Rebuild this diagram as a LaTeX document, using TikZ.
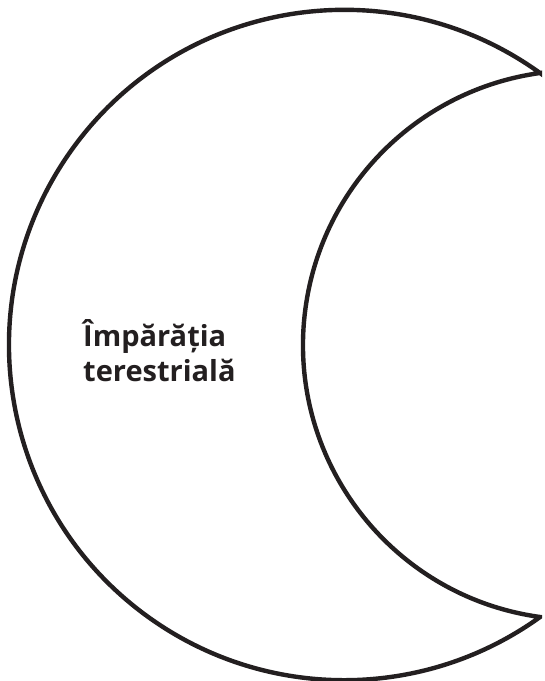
\documentclass[tikz,border=0pt]{standalone}
\usepackage{fontspec}
\setmainfont{Open Sans}
\definecolor{ink}{HTML}{231F20}
\begin{document}
\begin{tikzpicture}[x=1pt,y=1pt,
  moon/.style={draw=ink,line width=4.4pt,line join=miter,miter limit=20,fill=white},
  label/.style={align=left,text=ink,font=\fontsize{29}{35}\selectfont\bfseries,inner sep=0pt}]
\useasboundingbox (0,0) rectangle (545,681);
\coordinate (toptip) at (540,608);
\coordinate (bottip) at (540,64);
\draw[moon] (toptip) arc[start angle=54.25,end angle=305.75,radius=335.2]
  -- (bottip) arc[start angle=262.13,end angle=97.87,radius=274.6] -- cycle;
\node[label,anchor=base west] (t) at (83,299) {Împărăția\\terestrială};
\end{tikzpicture}
\end{document}
